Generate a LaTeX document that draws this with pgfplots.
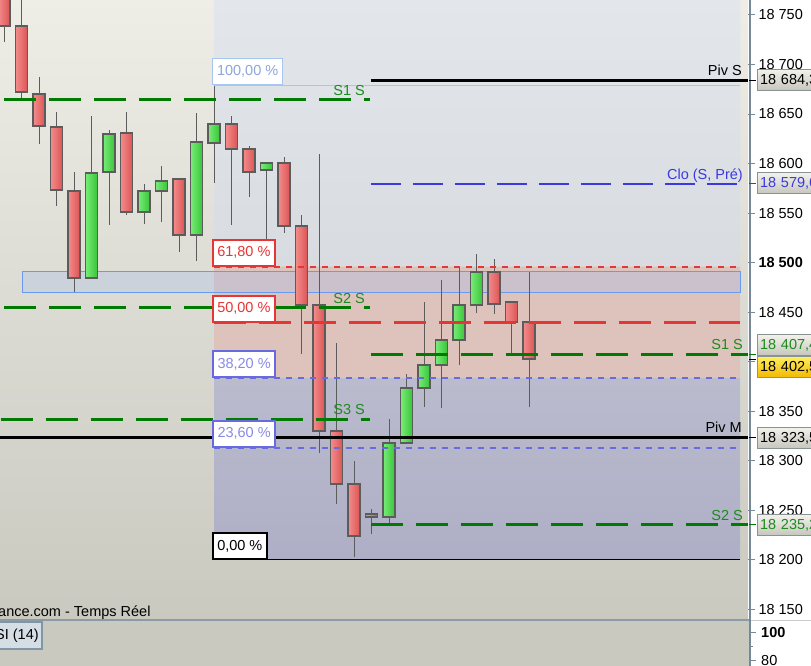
\documentclass[border=0pt]{standalone}
\usepackage{fontspec}
\setmainfont{Liberation Sans}
\usepackage{pgfplots}
\usepackage{pgfplotstable}
\pgfplotsset{compat=1.18}

\definecolor{bgtop}{HTML}{EEEDE6}
\definecolor{bgbot}{HTML}{CAC9C0}
\definecolor{zoneA1}{HTML}{E3E6EB}
\definecolor{zoneA2}{HTML}{D8DCE1}
\definecolor{zoneB}{HTML}{DEC3BD}
\definecolor{zoneC1}{HTML}{BBBBCE}
\definecolor{zoneC2}{HTML}{AEAEC6}
\definecolor{axgray}{HTML}{778899}
\definecolor{edge}{HTML}{5C5C5C}
\definecolor{redL}{HTML}{F48C8C}
\definecolor{redR}{HTML}{DC5454}
\definecolor{grnL}{HTML}{78EC78}
\definecolor{grnR}{HTML}{38C438}
\definecolor{pivgreen}{HTML}{007A00}
\definecolor{lblgreen}{HTML}{1E8A1E}
\definecolor{fibred}{HTML}{E53535}
\definecolor{fibblue}{HTML}{6A6AE0}
\definecolor{fibbluetxt}{HTML}{8A8AE6}
\definecolor{fibtop}{HTML}{A8C4F0}
\definecolor{fibtoptxt}{HTML}{8EA6DA}
\definecolor{clo}{HTML}{3A3AE0}
\definecolor{zoneedge}{HTML}{6A9AF0}
\definecolor{zonefill}{HTML}{A8C0E8}
\definecolor{tagtop}{HTML}{F2F2EC}
\definecolor{tagbot}{HTML}{C6C6BD}
\definecolor{tagedge}{HTML}{8A9393}
\definecolor{yeltop}{HTML}{FFEF60}
\definecolor{yelbot}{HTML}{F2B800}
\definecolor{rsibg}{HTML}{CAC9C0}
\definecolor{rsibox}{HTML}{D5DDE5}
\definecolor{rsiedge}{HTML}{8196A4}
\definecolor{sep}{HTML}{8A9AA6}

\newcommand\fs{\fontsize{14.5}{17}\selectfont}

% candles: index, open, high, low, close, up (1 = green)
\pgfplotstableread{
i open high low close up
0 18775 18790 18722.7 18738.9 0
1 18738.9 18775 18666.2 18672.3 0
2 18670.2 18687.4 18619.8 18637.9 0
3 18636.9 18652.1 18557.2 18573.3 0
4 18572.3 18591.5 18470.3 18484.5 0
5 18484.5 18648.0 18484.5 18590.5 1
6 18591.5 18633.9 18538.0 18629.8 1
7 18630.9 18652.1 18548.1 18551.1 0
8 18551.1 18579.4 18539.0 18572.3 1
9 18572.3 18597.5 18541.0 18582.4 1
10 18584.4 18584.4 18510.7 18527.9 0
11 18527.9 18651.1 18501.6 18621.8 1
12 18620.8 18678.3 18580.4 18640.0 1
13 18640.0 18648.0 18538.0 18614.7 0
14 18614.7 18617.7 18566.3 18591.5 0
15 18593.5 18600.6 18500.0 18600.6 1
16 18600.6 18606.6 18529.9 18537.0 0
17 18537.0 18548.1 18407.7 18457.2 0
18 18457.2 18609.6 18307.8 18330.0 0
19 18330.0 18418.8 18256.3 18276.5 0
20 18276.5 18299.7 18202.8 18224.0 0
21 18246.2 18251.3 18226.0 18243.2 0
22 18243.2 18342.1 18234.1 18317.9 1
23 18317.9 18387.6 18317.9 18373.4 1
24 18373.4 18460.2 18354.2 18396.6 1
25 18396.6 18482.5 18353.2 18421.9 1
26 18421.9 18495.6 18396.6 18457.2 1
27 18457.2 18508.7 18449.1 18490.5 1
28 18490.5 18503.7 18448.1 18458.2 0
29 18460.2 18461.2 18408.8 18440.1 0
30 18440.1 18490.5 18354.2 18402.5 0
}\candles

\pgfplotsset{
  wick/.style={draw=edge, line width=1pt},
  bull/.style={draw=edge, line width=1.5pt, line cap=rect, left color=grnL, right color=grnR},
  bear/.style={draw=edge, line width=1.5pt, line cap=rect, left color=redL, right color=redR},
  greendash/.style={draw=pivgreen, line width=3pt, dash pattern=on 32pt off 13pt},
}
\tikzset{
  fiblbl/.style={fill=white, minimum height=26pt, inner xsep=4.5pt, inner ysep=0pt, anchor=south west, font=\fs},
  lbl/.style={anchor=base east, inner sep=0pt, font=\fs, yshift=4.5pt},
  tag/.style={anchor=west, minimum height=21pt, text width=72pt, align=left, inner xsep=3pt, inner ysep=0pt, font=\fs, top color=tagtop, bottom color=tagbot, draw=tagedge, line width=1pt},
}

\begin{document}
\begin{tikzpicture}
\fill[white] (748pt,-45pt) rectangle (811pt,621pt);
\fill[rsibg] (0,-45pt) rectangle (749pt,0pt);
\begin{scope}
\clip (0,-45pt) rectangle (811pt,621pt);
\begin{axis}[
  name=ax, at={(0,0)}, anchor=south west,
  scale only axis, width=748pt, height=621pt,
  xmin=-0.2286, xmax=42.514, ymin=18138.2, ymax=18765.1,
  clip=false,
  axis x line=none, axis y line*=right,
  y axis line style={draw=none},
  ytick={18150,18200,18250,18300,18350,18400,18450,18500,18550,18600,18650,18700,18750},
  yticklabels={18 150,18 200,18 250,18 300,18 350,18 400,18 450,\textbf{18 500},18 550,18 600,18 650,18 700,18 750},
  tick align=outside, major tick length=7pt,
  ytick style={draw=axgray, line width=1pt},
  yticklabel style={anchor=west, font=\fs, text=black},
  axis background/.style={top color=bgtop, bottom color=bgbot},
]
% Fibonacci zones
\addplot[draw=none, top color=zoneA1, bottom color=zoneA2] coordinates {(12,18765.1) (42.06,18765.1) (42.06,18496) (12,18496) (12,18765.1)};
\addplot[draw=none, fill=zoneB] coordinates {(12,18496) (42.06,18496) (42.06,18383) (12,18383) (12,18496)};
\addplot[draw=none, top color=zoneC1, bottom color=zoneC2] coordinates {(12,18383) (42.06,18383) (42.06,18200) (12,18200) (12,18383)};
% zone rectangle
\addplot[draw=zoneedge, line width=1pt, fill=zonefill, fill opacity=0.35] coordinates {(1.03,18491.5) (42.06,18491.5) (42.06,18470.3) (1.03,18470.3) (1.03,18491.5)};

% candles
\pgfplotstablegetrowsof{\candles}
\pgfmathtruncatemacro\lastrow{\pgfplotsretval-1}
\pgfplotsforeachungrouped \rowk in {0,...,\lastrow}{%
  \pgfplotstablegetelem{\rowk}{i}\of\candles \let\cI\pgfplotsretval
  \pgfplotstablegetelem{\rowk}{open}\of\candles \let\cO\pgfplotsretval
  \pgfplotstablegetelem{\rowk}{high}\of\candles \let\cH\pgfplotsretval
  \pgfplotstablegetelem{\rowk}{low}\of\candles \let\cL\pgfplotsretval
  \pgfplotstablegetelem{\rowk}{close}\of\candles \let\cC\pgfplotsretval
  \pgfplotstablegetelem{\rowk}{up}\of\candles
  \ifnum\pgfplotsretval=1 \def\cstyle{bull}\else\def\cstyle{bear}\fi
  \pgfmathsetmacro\xa{\cI-0.343}%
  \pgfmathsetmacro\xb{\cI+0.343}%
  \edef\doit{\noexpand\addplot[wick] coordinates {(\cI,\cL) (\cI,\cH)};
    \noexpand\addplot[\cstyle] coordinates {(\xa,\cO) (\xb,\cO) (\xb,\cC) (\xa,\cC) (\xa,\cO)};}%
  \doit
}

% Fibonacci lines
\addplot[draw=fibtop, line width=1pt] coordinates {(12,18679) (42.06,18679)};
\addplot[draw=fibred, line width=2pt, dash pattern=on 6pt off 6pt] coordinates {(12,18496) (42.06,18496)};
\addplot[draw=fibred, line width=3pt, dash pattern=on 32pt off 13pt] coordinates {(12,18439.5) (42.06,18439.5)};
\addplot[draw=fibblue, line width=2pt, dash pattern=on 6pt off 6pt] coordinates {(12,18383) (42.06,18383)};
\addplot[draw=fibblue, line width=2pt, dash pattern=on 6pt off 6pt] coordinates {(12,18313) (42.06,18313)};
\addplot[draw=black, line width=1pt] coordinates {(12,18200) (42.06,18200)};

% pivots
\addplot[greendash] coordinates {(0,18664.2) (20.91,18664.2)};
\addplot[greendash] coordinates {(0,18454.2) (20.91,18454.2)};
\addplot[greendash] coordinates {(-0.2,18342.1) (20.91,18342.1)};
\addplot[greendash] coordinates {(20.97,18407.4) (42.514,18407.4)};
\addplot[greendash] coordinates {(20.97,18235.2) (42.514,18235.2)};
\addplot[draw=clo, line width=2pt, dash pattern=on 30pt off 12pt] coordinates {(20.97,18579.6) (42.06,18579.6)};
\addplot[draw=black, line width=3pt] coordinates {(20.97,18684.3) (42.514,18684.3)};
\addplot[draw=black, line width=3pt] coordinates {(-0.2286,18323.5) (42.514,18323.5)};

% line labels
\node[lbl, text=lblgreen] at (axis cs:20.63,18664.2) {S1 S};
\node[lbl, text=lblgreen] at (axis cs:20.63,18454.2) {S2 S};
\node[lbl, text=lblgreen] at (axis cs:20.63,18342.1) {S3 S};
\node[lbl, text=lblgreen] at (axis cs:42.23,18407.4) {S1 S};
\node[lbl, text=lblgreen] at (axis cs:42.23,18235.2) {S2 S};
\node[lbl, text=clo] at (axis cs:42.23,18579.6) {Clo (S, Pré)};
\node[lbl] at (axis cs:42.17,18684.3) {Piv S};
\node[lbl] at (axis cs:42.17,18323.5) {Piv M};

% Fibonacci labels
\node[fiblbl, draw=fibtop, line width=1pt, text=fibtoptxt] at (axis cs:11.886,18679) {100,00 \%};
\node[fiblbl, draw=fibred, line width=1.5pt, text=fibred] at (axis cs:11.886,18496) {61,80 \%};
\node[fiblbl, draw=fibred, line width=1.5pt, text=fibred] at (axis cs:11.886,18439.5) {50,00 \%};
\node[fiblbl, draw=fibblue, line width=2pt, text=fibbluetxt] at (axis cs:11.886,18383) {38,20 \%};
\node[fiblbl, draw=fibblue, line width=2pt, text=fibbluetxt] at (axis cs:11.886,18313) {23,60 \%};
\node[fiblbl, draw=black, line width=1.5pt, text=black] at (axis cs:11.886,18200) {0,00 \%};

% tag anchors
\coordinate (t1) at (axis cs:42.514,18684.4);
\coordinate (t2) at (axis cs:42.514,18579.9);
\coordinate (t3) at (axis cs:42.514,18416.8);
\coordinate (t4) at (axis cs:42.514,18394.6);
\coordinate (t5) at (axis cs:42.514,18322.9);
\coordinate (t6) at (axis cs:42.514,18235.1);
\coordinate (k1) at (axis cs:42.514,18684.3);
\coordinate (k2) at (axis cs:42.514,18579.6);
\coordinate (k3) at (axis cs:42.514,18407.4);
\coordinate (k4) at (axis cs:42.514,18402.5);
\coordinate (k5) at (axis cs:42.514,18323.5);
\coordinate (k6) at (axis cs:42.514,18235.2);
\end{axis}

% price axis line and separators
\draw[axgray, line width=2pt] (749.5pt,-45pt) -- (749.5pt,621pt);
\draw[sep, line width=2pt] (0,1pt) -- (748.5pt,1pt);
\draw[black!20, line width=1.5pt] (751pt,0.5pt) -- (811pt,0.5pt);

% value tags
\draw[black, line width=1pt] ([xshift=1pt]k1) -- ++(7pt,0);
\draw[clo, line width=1pt] ([xshift=1pt]k2) -- ++(7pt,0);
\draw[pivgreen, line width=1pt] ([xshift=1pt]k3) -- ++(7pt,0);
\draw[black, line width=1pt] ([xshift=1pt]k4) -- ++(7pt,0);
\draw[black, line width=1pt] ([xshift=1pt]k5) -- ++(7pt,0);
\draw[pivgreen, line width=1pt] ([xshift=1pt]k6) -- ++(7pt,0);
\node[tag, text=black] at ([xshift=8.5pt]t1) {18 684,3};
\node[tag, text=clo] at ([xshift=8.5pt]t2) {18 579,6};
\node[tag, text=lblgreen] at ([xshift=8.5pt]t3) {18 407,4};
\node[tag, text=black, top color=yeltop, bottom color=yelbot] at ([xshift=8.5pt]t4) {18 402,5};
\node[tag, text=black] at ([xshift=8.5pt]t5) {18 323,5};
\node[tag, text=lblgreen] at ([xshift=8.5pt]t6) {18 235,2};

% source line
\node[anchor=base west, inner sep=0pt, font=\fs] at (-2pt,4pt) {ance.com - Temps Réel};

% RSI panel
\draw[rsiedge, line width=2pt, fill=rsibox] (-5pt,-1.5pt) rectangle (42pt,-28pt);
\node[anchor=west, inner sep=0pt, font=\fs] at (-15.5pt,-15pt) {RSI (14)};
\draw[axgray, line width=1pt] (749pt,-12pt) -- (756pt,-12pt);
\draw[axgray, line width=1pt] (749pt,-26pt) -- (753pt,-26pt);
\draw[axgray, line width=1pt] (749pt,-40pt) -- (756pt,-40pt);
\node[anchor=west, inner sep=0pt, font=\fs\bfseries] at (761pt,-12pt) {100};
\node[anchor=west, inner sep=0pt, font=\fs] at (761pt,-40pt) {80};
\end{scope}
\pgfresetboundingbox
\path[use as bounding box] (0,-45pt) rectangle (811pt,621pt);
\end{tikzpicture}
\end{document}
